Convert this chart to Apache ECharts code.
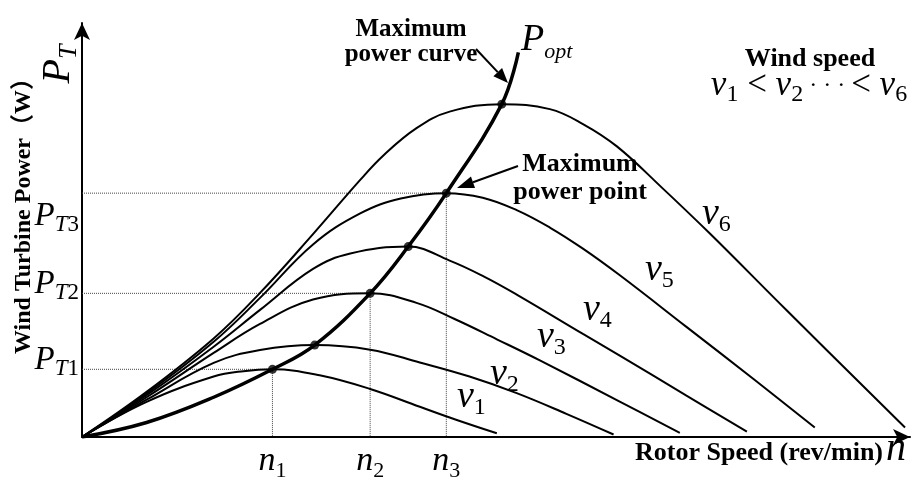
<!DOCTYPE html>
<html>
<head>
<meta charset="utf-8">
<script src="https://cdn.jsdelivr.net/npm/echarts@6/dist/echarts.min.js"></script>
<style>
  html, body { margin: 0; padding: 0; background: #fff; }
  #chart { width: 920px; height: 482px; }
</style>
</head>
<body>
<div id="chart"></div>
<script>
// Wind turbine power versus rotor speed for six wind speeds v1 < ... < v6,
// in normalised units (0-100 on both axes). Each curve is a list of [speed, power].
const curveV1 = [[0,0],[7.8,8.5],[15.9,14.6],[19.5,15.9],[23.0,16.35],[28.7,14.9],[34.8,11.6],[40.8,7.3],[45.0,4.3],[50.1,0.9]];
const curveV2 = [[0,0],[7.8,9.0],[15.9,17.9],[21.5,21.0],[28.1,22.2],[34.8,21.1],[40.8,18.0],[46.8,14.6],[52.5,10.6],[58.5,5.6],[64.2,0.6]];
const curveV3 = [[0,0],[7.8,9.6],[15.9,20.3],[21.5,27.3],[27.9,33.2],[34.8,34.7],[40.4,32.4],[45.0,28.5],[50.1,23.6],[55.3,18.5],[65.0,8.5],[72.2,1.0]];
const curveV4 = [[0,0],[7.8,10.1],[15.9,21.8],[21.5,30.7],[27.9,40.6],[32.4,44.3],[39.4,46.0],[44.4,42.6],[48.5,38.8],[52.5,34.4],[60.5,24.9],[65.0,19.6],[73.0,10.0],[80.3,1.3]];
const curveV5 = [[0,0],[7.8,10.5],[15.9,23.0],[21.5,33.6],[27.9,46.5],[33.6,54.0],[38.5,57.6],[44.0,58.9],[48.4,57.8],[52.5,54.8],[56.5,50.6],[60.5,45.5],[65.0,39.0],[73.0,26.6],[81.1,14.0],[88.5,2.3]];
const curveV6 = [[0,0],[7.8,10.9],[15.9,23.8],[21.5,34.8],[27.9,49.0],[33.6,62.1],[36.4,68.0],[40.4,74.6],[44.4,78.6],[50.7,80.4],[56.5,79.2],[60.5,75.6],[64.6,70.2],[70.0,60.3],[75.8,49.2],[85.1,30.6],[99.4,2.3]];

// Maximum power curve P_opt through the peak of every curve
const optimalCurve = [[0,0],[7.8,3.5],[15.9,9.6],[23.0,16.35],[28.1,22.2],[34.8,34.7],[39.4,46.0],[44.0,58.9],[50.7,80.4],[52.7,92.9]];

// Peak (maximum power) point of each wind-speed curve
const peakSpeed = [23.0, 28.1, 34.8, 39.4, 44.0, 50.7];
const peakPower = [16.35, 22.2, 34.7, 46.0, 58.9, 80.4];

// Peaks that get n_k / P_Tk reference marks, and their subscripts
const markedPeaks = [0, 2, 4];
const markSubscripts = ['1', '2', '3'];

const SERIF = '"Liberation Serif", "Times New Roman", serif';
const curves = [curveV1, curveV2, curveV3, curveV4, curveV5, curveV6];

const chart = echarts.init(document.getElementById('chart'), null, { renderer: 'canvas' });

function markIndexOf(list, value) {
  for (let k = 0; k < markedPeaks.length; k++) {
    if (Math.abs(list[markedPeaks[k]] - value) < 1e-6) return k;
  }
  return 0;
}

// subscripted math text: italic main letter, smaller subscript lowered below it
function mathRich(mainSize, subSize, drop, subItalic) {
  const lh = Math.round(mainSize * 1.2);
  return {
    m: { fontFamily: SERIF, fontStyle: 'italic', fontSize: mainSize, lineHeight: lh, verticalAlign: 'middle', color: '#000' },
    s: { fontFamily: SERIF, fontStyle: subItalic ? 'italic' : 'normal', fontSize: subSize, lineHeight: Math.max(2, lh - 2 * drop), verticalAlign: 'bottom', color: '#000' },
    o: { fontFamily: SERIF, fontSize: mainSize, lineHeight: lh, verticalAlign: 'middle', color: '#000' },
    d: { fontFamily: SERIF, fontSize: subSize, lineHeight: lh, verticalAlign: 'middle', color: '#000' }
  };
}

const guideSeries = markedPeaks.map(function (i) {
  return {
    type: 'line',
    silent: true,
    symbol: 'none',
    z: 1,
    lineStyle: { color: '#444', width: 1, type: 'dotted' },
    data: [[0, peakPower[i]], [peakSpeed[i], peakPower[i]], [peakSpeed[i], 0]]
  };
});

const curveSeries = curves.map(function (c, idx) {
  return {
    name: 'v' + (idx + 1),
    type: 'line',
    symbol: 'none',
    smooth: 0.4,
    z: 3,
    lineStyle: { color: '#000', width: 2 },
    data: c
  };
});

function textEl(x, y, text, font, align, extra) {
  return Object.assign({
    type: 'text', x: x, y: y, z: 10,
    style: { text: text, font: font, fill: '#000', align: align, verticalAlign: 'middle', textAlign: align, textVerticalAlign: 'middle' }
  }, extra || {});
}

function richEl(x, y, text, rich, align, extra) {
  return Object.assign({
    type: 'text', x: x, y: y, z: 10,
    style: { text: text, rich: rich, fill: '#000', align: align, verticalAlign: 'middle', textAlign: align, textVerticalAlign: 'middle' }
  }, extra || {});
}

function arrowEls(x1, y1, x2, y2, headLen, headW) {
  const dx = x2 - x1, dy = y2 - y1;
  const len = Math.sqrt(dx * dx + dy * dy);
  const ux = dx / len, uy = dy / len;
  const bx = x2 - ux * headLen, by = y2 - uy * headLen;
  const px = -uy * headW / 2, py = ux * headW / 2;
  return [
    { type: 'line', z: 10, shape: { x1: x1, y1: y1, x2: bx, y2: by }, style: { stroke: '#000', lineWidth: 2 } },
    { type: 'polygon', z: 10, shape: { points: [[x2, y2], [bx + px, by + py], [bx - px, by - py]] }, style: { fill: '#000' } }
  ];
}

const vLabelRich = mathRich(38, 24, 16, false);
const curveTags = [
  [457, 397, '1'], [490, 374, '2'], [537, 337, '3'],
  [583, 310, '4'], [645, 270, '5'], [702, 214, '6']
];

const maxCurveText = textEl(411, 42, 'Maximum\npower curve', 'bold 25px ' + SERIF, 'center');
maxCurveText.style.lineHeight = 25;
const maxPointText = textEl(580, 178, 'Maximum\npower point', 'bold 26px ' + SERIF, 'center');
maxPointText.style.lineHeight = 28;

const graphics = [
  textEl(24, 210, 'Wind Turbine Power（W）', 'bold 24px ' + SERIF + ', "Noto Sans CJK SC"', 'center', { rotation: Math.PI / 2 }),
  richEl(58, 64, '{m|P}{s|T}', mathRich(40, 26, 13, true), 'center', { rotation: Math.PI / 2 }),
  textEl(883, 453, 'Rotor Speed (rev/min)', 'bold 26px ' + SERIF, 'right'),
  textEl(886, 449, 'n', 'italic 40px ' + SERIF, 'left'),
  textEl(810, 59, 'Wind speed', 'bold 26px ' + SERIF, 'center'),
  richEl(809, 86, '{m|v}{s|1}{o| < }{m|v}{s|2}{d| \u00B7 \u00B7 \u00B7 }{o|< }{m|v}{s|6}', mathRich(35, 24, 16, false), 'center'),
  maxCurveText,
  maxPointText,
  richEl(521, 40, '{m|P}{s|opt}', mathRich(38, 22, 15, true), 'left')
].concat(
  arrowEls(476, 49, 508, 83, 15, 12),
  arrowEls(518, 166, 457, 188, 17, 12),
  curveTags.map(function (t) { return richEl(t[0], t[1], '{m|v}{s|' + t[2] + '}', vLabelRich, 'left'); })
);

const option = {
  backgroundColor: '#fff',
  animation: false,
  grid: { left: 82, right: 10, top: 23, bottom: 45 },
  xAxis: {
    type: 'value', min: 0, max: 100,
    splitLine: { show: false },
    axisTick: { show: false },
    axisLine: { show: true, symbol: ['none', 'arrow'], symbolSize: [12, 17], lineStyle: { color: '#000', width: 2 } },
    axisLabel: {
      customValues: markedPeaks.map(function (i) { return peakSpeed[i]; }),
      margin: 4,
      verticalAlign: 'top',
      formatter: function (value) { return '{m|n}{s|' + markSubscripts[markIndexOf(peakSpeed, value)] + '}'; },
      rich: mathRich(34, 22, 13, false)
    }
  },
  yAxis: {
    type: 'value', min: 0, max: 100,
    splitLine: { show: false },
    axisTick: { show: false },
    axisLine: { show: true, symbol: ['none', 'arrow'], symbolSize: [12, 17], lineStyle: { color: '#000', width: 2 } },
    axisLabel: {
      customValues: markedPeaks.map(function (i) { return peakPower[i]; }),
      margin: 3,
      align: 'right',
      formatter: function (value) {
        const k = markIndexOf(peakPower, value);
        const label = '{m|P}{t|T}{s|' + markSubscripts[k] + '}';
        return k === 2 ? '{g3| }\n' + label : label + '\n{g| }';
      },
      rich: Object.assign(mathRich(33, 23, 14, false), {
        t: { fontFamily: SERIF, fontStyle: 'italic', fontSize: 23, lineHeight: 12, verticalAlign: 'bottom', color: '#000' },
        g: { fontSize: 4, lineHeight: 18 },
        g3: { fontSize: 4, lineHeight: 47 }
      })
    }
  },
  graphic: graphics,
  series: guideSeries.concat(curveSeries, [
    {
      name: 'P_opt',
      type: 'line',
      symbol: 'none',
      smooth: 0.4,
      z: 4,
      lineStyle: { color: '#000', width: 3.5 },
      data: optimalCurve
    },
    {
      name: 'maximum power points',
      type: 'scatter',
      symbol: 'circle',
      symbolSize: 9,
      z: 5,
      itemStyle: { color: '#000' },
      data: peakSpeed.map(function (s, i) { return [s, peakPower[i]]; })
    }
  ])
};

chart.setOption(option);
</script>
</body>
</html>
